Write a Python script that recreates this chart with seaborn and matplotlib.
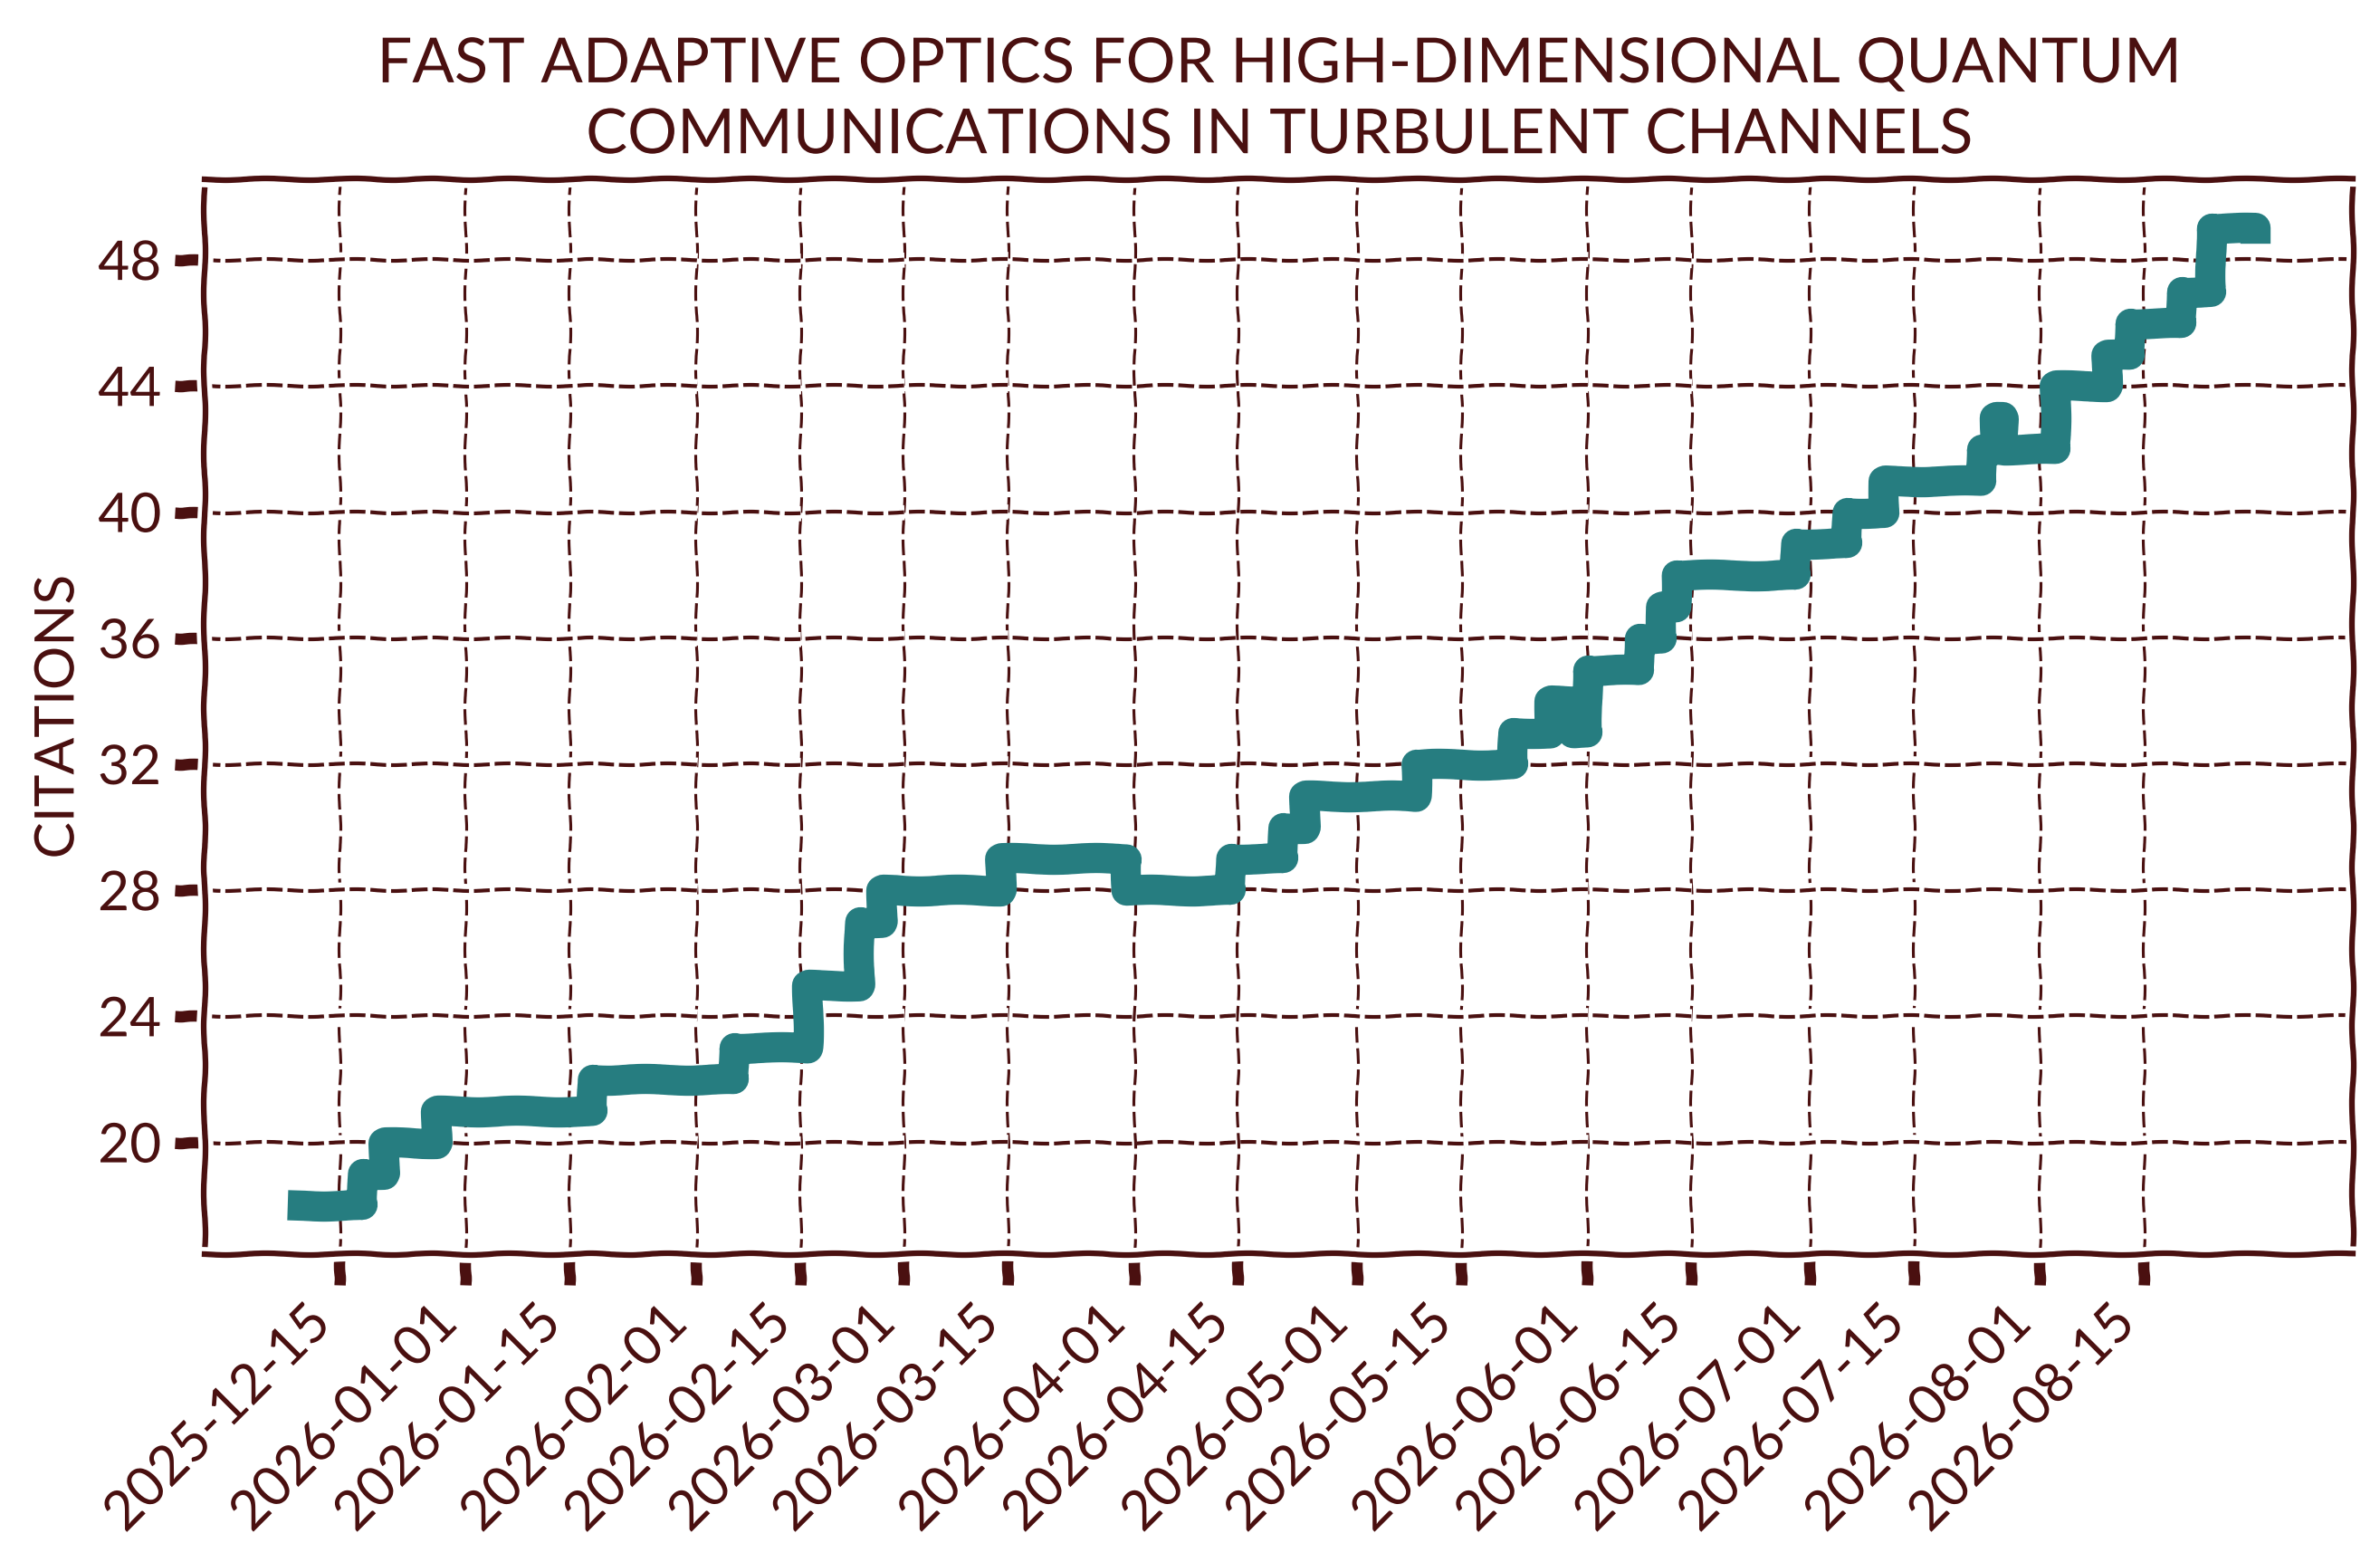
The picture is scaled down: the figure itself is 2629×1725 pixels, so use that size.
import matplotlib

matplotlib.use("Agg")
import matplotlib.pyplot as plt
import pandas as pd
import seaborn as sns

# citation count, one entry per day on which it changed
change_dates = [
    "2025-12-10", "2025-12-18", "2025-12-21", "2025-12-28", "2026-01-18",
    "2026-02-06", "2026-02-16", "2026-02-23", "2026-02-26", "2026-03-14",
    "2026-03-31", "2026-04-14", "2026-04-21", "2026-04-24", "2026-05-09",
    "2026-05-22", "2026-05-27", "2026-05-30", "2026-06-01", "2026-06-08",
    "2026-06-11", "2026-06-13", "2026-06-29", "2026-07-06", "2026-07-11",
    "2026-07-24", "2026-07-26", "2026-07-27", "2026-08-03", "2026-08-10",
    "2026-08-13", "2026-08-20", "2026-08-24", "2026-08-30",
]
citations = [
    18, 19, 20, 21, 22,
    23, 25, 27, 28, 29,
    28, 29, 30, 31, 32,
    33, 34, 33, 35, 36,
    37, 38, 39, 40, 41,
    42, 43, 42, 44, 45,
    46, 47, 49, 49,
]

tick_dates = [
    "2025-12-15", "2026-01-01", "2026-01-15", "2026-02-01", "2026-02-15",
    "2026-03-01", "2026-03-15", "2026-04-01", "2026-04-15", "2026-05-01",
    "2026-05-15", "2026-06-01", "2026-06-15", "2026-07-01", "2026-07-15",
    "2026-08-01", "2026-08-15",
]
y_ticks = [20, 24, 28, 32, 36, 40, 44, 48]

title = "FAST ADAPTIVE OPTICS FOR HIGH-DIMENSIONAL QUANTUM\nCOMMUNICATIONS IN TURBULENT CHANNELS"
y_label = "CITATIONS"

INK = "#4a1010"
TEAL = "#267d80"


def main() -> None:
    plt.xkcd()
    plt.rcParams.update(
        {
            "font.family": ["Lato", "DejaVu Sans"],
            "text.color": INK,
            "axes.labelcolor": INK,
            "axes.edgecolor": INK,
            "xtick.color": INK,
            "ytick.color": INK,
        }
    )

    df = pd.DataFrame({"date": pd.to_datetime(change_dates), "citations": citations})

    fig, ax = plt.subplots(figsize=(2629 / 300, 1725 / 300), dpi=300)
    fig.subplots_adjust(left=0.086, right=0.9886, bottom=0.197, top=0.885)

    sns.lineplot(
        data=df,
        x="date",
        y="citations",
        drawstyle="steps-post",
        color=TEAL,
        linewidth=8,
        ax=ax,
    )

    ax.yaxis.grid(True, linestyle=(0, (4.2, 1.3)), linewidth=1.0, color=INK)
    ax.xaxis.grid(True, linestyle=(0, (5.5, 2.0)), linewidth=0.75, color=INK)
    ax.set_axisbelow(True)

    ax.set_xticks(pd.to_datetime(tick_dates))
    ax.set_xticklabels(tick_dates, rotation=45, ha="right", fontsize=14.5)
    ax.set_yticks(y_ticks)
    ax.set_yticklabels([str(v) for v in y_ticks], fontsize=14.5)

    ax.set_xlabel("")
    ax.set_ylabel(y_label, fontsize=14.5)
    ax.set_title(title, fontsize=16.5, pad=7, linespacing=1.3)

    fig.savefig("out.png", dpi=300)
    plt.close(fig)


if __name__ == "__main__":
    main()
